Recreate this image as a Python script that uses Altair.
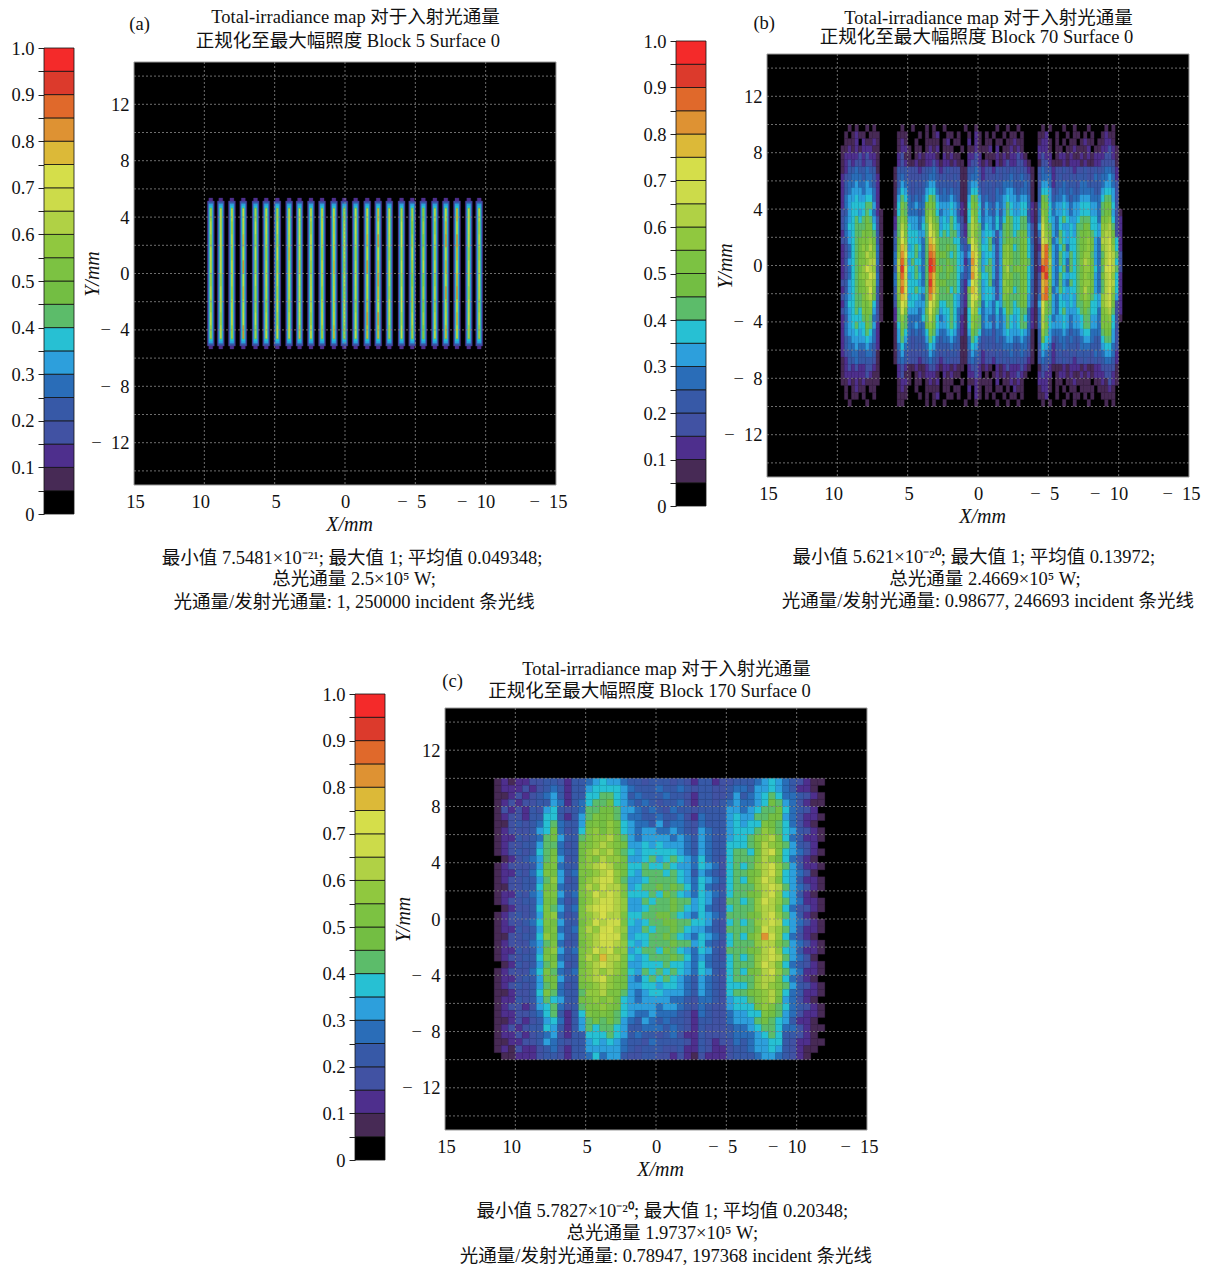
import altair as alt
import pandas as pd

SERIF = "Liberation Serif, Noto Sans CJK SC"

# colour of each irradiance band, lowest band first (0-0.05 ... 0.95-1)
band_colors = ["#000000", "#472A55", "#4E2F8D", "#4152A3", "#3759A7", "#2A6DB8", "#2D9FDC",
               "#27C0D3", "#5CBC6A", "#73BE43", "#7CC242", "#90C83F", "#B0D145", "#CCDB4A",
               "#D5DE4A", "#DCB938", "#DE9233", "#E0692B", "#DC3A2C", "#F42A2A"]
band_lower = [i / 20 for i in range(20)]
band_upper = [(i + 1) / 20 for i in range(20)]
LEVELS = "0123456789abcdefghij"

# panel (a): stripe centres (mm) and nested bands (half width, half height, level)
stripe_x = [9.54, 8.83, 8.04, 7.23, 6.36, 5.60, 4.81, 3.97, 3.23, 2.42, 1.63, 0.79, 0.05,
            -0.76, -1.58, -2.36, -3.15, -4.02, -4.78, -5.57, -6.39, -7.17, -7.96, -8.80, -9.54]
stripe_bands = [(0.14, 5.35, "2"), (0.25, 5.15, "2"), (0.2, 5.1, "4"), (0.14, 4.95, "6"), (0.10, 4.8, "7"), (0.065, 4.65, "9")]
stripe_core = ["cdcedcdcec", "ddedecedcd", "dcdcedcdec", "edfdgefdeg", "cdcdcdccdc", "dedcdedcde",
               "cdcecdcdcd", "dedfdedcde", "ededfededf", "dcedcdedce", "dedcedcdec", "ededfdedef",
               "cdedcdcedc", "dedcdedcde", "edfegedfgf", "fegefgfegf", "dedcedcedc", "cdecdcdecd",
               "cbcdcbccdc", "bcbcdbcbcb", "dcdcecdcde", "efgefegdef", "fegfefgefe", "dedcedcdec",
               "dcdcdedcdc"]

# panel (b): levels read per 0.25 x 0.5 mm cell, x from 10.5 to -10.5, y from 10 to -10
rows_b = """0000 0101 0010 1000 0000 1001 0001 0100 1000 0010 0100 0001 0010 0100 0000 1010 0010 0100 0100 0010 1000
0000 1012 1101 1100 0001 1100 0101 0120 0110 1001 0210 1010 0101 1010 0001 1200 1001 0110 1010 0121 1000
0000 1112 0211 2100 0001 2100 1001 1110 1201 1002 0210 1101 1011 2110 0001 2210 1010 1101 2110 1122 1000
0001 1212 1222 1100 0001 2210 1101 2120 1110 0101 1211 1202 0112 1210 0002 2210 1101 1211 1201 1223 2100
0001 2222 3232 2100 0002 3110 1212 2210 2121 1002 2320 1112 1212 2321 0002 3220 1221 2112 1212 2233 2100
0001 2323 3233 2100 0002 3211 2112 2321 2212 1102 3321 2102 1232 2332 1001 3321 1121 2221 2112 2333 3100
0001 2445 4454 4100 0014 4433 3234 4532 3433 3114 4532 3324 3434 4343 2103 5442 3343 3233 4334 3455 4200
0002 3455 5455 4200 0014 5433 3344 5543 4334 3114 5542 3334 3445 4454 3103 5552 3433 4344 4335 4556 5200
0002 4556 5565 4200 0014 6543 4345 6644 4443 4115 6643 4434 4555 4445 4103 6652 4454 4435 5444 4566 5300
0002 4566 6566 5200 0015 7643 4446 7754 5454 4115 7753 4435 4566 5455 4104 7763 4554 5445 5554 4677 6300
0002 5667 6677 5200 0016 8754 5457 9865 5565 4116 9864 5435 5676 6566 5104 9864 5565 4556 6655 5788 6300
0002 5677 7788 6200 0017 a855 6559 a976 6676 5217 a974 6546 5687 6677 5215 a975 6676 5667 7766 5899 7300
0003 4677 6787 5210 0017 a855 5459 b975 6676 4217 b974 6546 4687 6677 4215 b975 6676 5667 7766 5899 6310
0003 5678 7898 6310 0028 b966 6569 ca86 7687 5317 ca75 6657 5798 7788 5215 c976 5787 6678 8877 5aab 7320
0003 5778 8899 7310 0028 ca76 6578 db96 7787 6328 cb85 7657 5898 7788 6316 da86 5766 7688 9977 6bbc 8320
0002 5678 8a9a 8410 0038 da77 7668 ec97 8788 6328 ca86 7763 6898 7899 6415 eb96 5876 7689 9a87 6bcc 9320
0003 4678 9aab 9410 0049 eb77 7658 fda8 8887 7439 db86 7853 6899 889a 7413 ec95 6876 7789 ab96 5ccd a720
0002 3578 9bac a510 004a fc67 8758 gfa8 8988 7535 ec87 7863 6ab9 789a 7512 fha6 5785 7789 ab96 5bcd b720
0002 3578 9acb b510 005b ge77 8658 hga9 9878 7636 fd96 7763 6ab9 889a 7513 fhb6 5876 8789 bb86 58cd c830
0002 4678 aabc c510 005c hc68 7758 iha8 8988 7625 gd86 7863 6bb9 889a 8513 ghc6 5875 878a cb96 59ce c730
0002 3578 9bdc b410 004c ie77 8658 jha9 8a98 7635 fe86 8863 6ac8 9a9a 7512 ihb6 5785 8789 bb97 58de c830
0002 3578 abbd c510 005b hd67 8758 hfa8 8988 7535 gd97 7863 6ab9 8899 7513 gib6 5876 7789 ba96 59cd b720
0003 4678 9acc b510 005b gd77 7658 ifa9 9888 7426 ec86 7853 6ba9 889a 7413 fga6 5865 878a bb96 58cd c720
0002 4678 9abd a410 004b he77 8768 hfb8 8978 7429 fd86 7763 6ab9 789a 7413 fha5 6876 7789 ca96 58ce b720
0003 5678 8abc 9410 004a fd67 7658 gda8 8887 6328 ed96 7763 6a98 889a 6415 gha6 5766 7689 ba87 6bcd a620
0002 5778 8a9b 7310 0039 ec77 6668 ec97 7887 6328 db85 7657 6898 7899 6316 ea86 5776 7688 a977 6bcd 9320
0003 5678 7a9a 6310 0028 da66 6569 db86 7787 5317 cb75 6657 5798 7788 5215 d986 5786 6678 9877 5abc 8320
0002 4677 7898 5310 0028 b855 5578 ca75 6787 5217 ba85 6546 5687 6787 5215 c875 6676 5667 8866 5aab 7310
0002 5678 7798 6200 0017 a855 6559 b976 6787 5217 b985 6646 5687 6788 5215 c976 6676 5667 8866 5aaa 7300
0002 5667 6787 5200 0016 9754 5457 a865 5676 4216 9874 5535 5676 6676 5104 b865 5565 4556 7755 5899 6300
0002 4566 6676 5200 0016 8643 4446 8754 5565 4115 8753 4435 4566 5565 4104 9763 4554 5445 6654 4788 6300
0002 4556 5565 4200 0015 7543 4345 7644 4454 4115 7643 4434 4555 4455 3103 7652 4454 4435 5544 4677 5300
0002 3455 4455 4100 0014 6433 3344 6543 4344 3114 6542 3334 3445 4454 3103 6542 3433 4344 4435 4566 5200
0001 2445 4444 3100 0014 5433 3234 5432 3433 3114 5432 3324 3434 4343 2103 5442 3343 3233 4334 3455 4200
0001 2323 2233 2100 0002 3211 2112 3321 2212 1102 3321 2102 1232 2232 1001 3321 1121 2221 2112 2333 3100
0001 2222 2232 1100 0002 3110 1212 2210 2121 1002 2320 1012 1212 2321 0002 3220 1221 2112 1212 2233 2100
0001 1212 1211 1100 0001 2210 1101 2120 1110 0101 1211 1102 0112 1210 0002 2210 1101 1211 1101 1213 2100
0000 1012 1101 1000 0001 2100 1001 1110 1101 1002 0210 1101 1010 2110 0001 2210 1010 1101 1110 1112 1000
0000 1011 0100 1000 0001 1100 0101 0120 0110 1001 0210 1010 0101 1010 0001 1200 1001 0110 1010 0111 1000
0000 0100 0010 0000 0001 1000 0001 0100 1000 0010 0100 0001 0010 0100 0000 1010 0010 0100 0100 0010 1000""".split("\n")

# panel (c): levels read per 0.5 mm cell, x from 12 to -12, y from 10 to -10
rows_c = """012122 334432 445676 654434 443432 442334 445676 543211
012223 234542 446777 765444 544543 443345 546676 542210
011232 345642 447788 764544 454432 443346 456787 554321
012323 344652 457889 765454 344532 443456 556798 653211
013232 436743 458899 866545 435443 444466 567889 754320
012332 447742 468a9a 865544 544532 544467 668899 653221
011343 457854 469a9b 976554 645543 544467 677a98 753210
012333 467953 47ab9b 976566 556543 654467 778ba8 764321
012243 458964 48abbc a86566 665654 654467 78abc9 754221
012334 468853 49abcb a96676 766654 654477 789cba 864320
012343 478954 49bcbc a87677 777654 654478 879cda 765321
001234 568a63 49bacb b96678 678765 754378 88acb9 753210
012333 469a54 4abcdc a97787 787665 765378 78bcdb 864221
012243 57a964 5aabcd b97688 878764 654378 89acdb 765310
012334 468b63 49bcdd b86678 888765 765478 79bdca 764221
011334 479a54 4acbdc ca6788 989875 754378 88bcdc 865321
012243 56aa64 5abdcd ca7778 798765 765478 89acdb 764210
012334 469953 49bcdd cb6687 889886 764388 78bdcb 865221
001233 47a864 5acded cb6678 889876 754378 88bcca 753321
012343 46ab53 4abcec ca7788 998765 765488 89acdb 864210
012334 57a964 49bdcd da7678 899887 764378 78bcdc 765321
012243 469a54 5acbde cb6687 889876 654388 88adcb 864221
011334 47b964 4abced da6778 898765 765478 79bgdb 753210
012333 568a53 49bcdd cb7678 889886 754378 88bcca 865321
012243 469b64 5abdcd bb6788 798765 764388 89acdb 764221
012334 47a954 4acbfc ca7678 889875 654378 78bcdc 865310
001243 468a63 49bcdc ba6677 787765 754478 88bdca 754321
012333 57a854 5abcbc b97687 878765 764378 79acdb 865221
012234 469964 4abcdb a96578 787654 654378 88bcca 753210
012343 468953 49abcb a96677 677654 654377 78bcba 864321
011233 47a854 48bbca a86567 766654 654378 89abca 754221
012243 468764 49abab 976566 665543 554367 78abc9 653210
012332 367853 48aaba 976666 566543 543367 779ba8 754321
012233 457842 47a9a9 876556 555432 543356 677a98 653221
011232 346752 468989 865465 454432 443356 668987 642210
012323 447642 468788 764455 545432 433345 567887 553211
012232 345632 447778 764544 345322 433345 556787 443210
011223 346543 446767 654435 444432 432335 456677 432211
012132 234532 446666 654344 433422 432234 456676 432110
001122 234432 445756 643344 332321 322234 445665 432100""".split("\n")

x_ticks = [15, 10, 5, 0, -5, -10, -15]
x_grid = [10, 5, 0, -5, -10]
y_ticks = [14, 12, 10, 8, 6, 4, 2, 0, -2, -4, -6, -8, -10, -12, -14]

titles = {
    "a": [("Total-irradiance map 对于入射光通量", -0.75, 18.16), ("正规化至最大幅照度 Block 5 Surface 0", -0.2, 16.52), ("(a)", 14.6, 17.7)],
    "b": [("Total-irradiance map 对于入射光通量", -0.75, 17.58), ("正规化至最大幅照度 Block 70 Surface 0", 0.1, 16.24), ("(b)", 15.2, 17.2)],
    "c": [("Total-irradiance map 对于入射光通量", -0.75, 17.77), ("正规化至最大幅照度 Block 170 Surface 0", 0.46, 16.2), ("(c)", 14.46, 16.9)],
}
captions = {
    "a": [("最小值 7.5481×10⁻²¹; 最大值 1; 平均值 0.049348;", -0.5, -20.15), ("总光通量  2.5×10⁵ W;", -0.65, -21.7), ("光通量/发射光通量: 1,  250000 incident 条光线", -0.65, -23.3)],
    "b": [("最小值 5.621×10⁻²⁰; 最大值 1; 平均值 0.13972;", 0.3, -20.65), ("总光通量  2.4669×10⁵ W;", -0.5, -22.2), ("光通量/发射光通量: 0.98677,  246693 incident 条光线", -0.7, -23.8)],
    "c": [("最小值 5.7827×10⁻²⁰; 最大值 1; 平均值 0.20348;", -0.45, -20.75), ("总光通量  1.9737×10⁵ W;", -0.45, -22.3), ("光通量/发射光通量: 0.78947,  197368 incident 条光线", -0.7, -23.95)],
}


def grid_cells(rows, x_start, y_start, step_x=0.5, step_y=0.5):
    out = []
    for r, row in enumerate(rows):
        for c, ch in enumerate(row.replace(" ", "")):
            if ch != "0":
                out.append({"x1": x_start - c * step_x, "x2": x_start - (c + 1) * step_x,
                            "y1": y_start - r * step_y, "y2": y_start - (r + 1) * step_y,
                            "color": band_colors[LEVELS.index(ch)]})
    return pd.DataFrame(out)


def stripe_cells():
    out = []
    for cx, core in zip(stripe_x, stripe_core):
        for hw, hh, ch in stripe_bands:
            out.append({"x1": cx + hw, "x2": cx - hw, "y1": hh, "y2": -hh, "color": band_colors[LEVELS.index(ch)]})
        for r, ch in enumerate(core):
            out.append({"x1": cx + 0.035, "x2": cx - 0.035, "y1": 4.6 - r * 0.92, "y2": 4.6 - (r + 1) * 0.92,
                        "color": band_colors[LEVELS.index(ch)]})
    return pd.DataFrame(out)


X_SCALE = alt.Scale(domain=[15, -15], nice=False, zero=False)
LABEL = "(datum.value<0 ? '\u2212\u2002' + abs(datum.value) : '' + datum.value)"
OFFSET = "datum.value==15?1:datum.value==10?-4:datum.value==5?1:datum.value==-5?-4:datum.value==-10?-10:datum.value==-15?-8:0"


def panel(cells, key, top, bottom, view_h):
    y_scale = alt.Scale(domain=[-15, 15], range=[bottom, top], nice=False, zero=False)
    x_axis = alt.Axis(values=x_ticks, grid=False, ticks=False, domain=False, labelExpr=LABEL, labelFlush=False,
                      labelOverlap=False, labelBound=False, labelPadding=7, labelOffset=alt.expr(OFFSET),
                      offset=bottom - view_h,
                      title="X/mm", titleFontStyle="italic", titleX=215, titleY=45, titleFontWeight="normal",
                      titleBaseline="alphabetic")
    y_axis = alt.Axis(values=y_ticks, grid=False, ticks=False, domain=False, labelPadding=5, labelOverlap=False,
                      labelExpr="abs(datum.value)%4==0 && abs(datum.value)<=12 ? " + LABEL + " : ''",
                      title="Y/mm", titleFontStyle="italic", titleX=-42, titleY=(top + bottom) / 2,
                      titleFontWeight="normal", titleBaseline="middle")
    xe = alt.X("x1:Q", scale=X_SCALE, axis=x_axis)
    ye = alt.Y("y1:Q", scale=y_scale, axis=y_axis)
    bg = alt.Chart(pd.DataFrame({"x1": [15], "x2": [-15], "y1": [15], "y2": [-15]})).mark_rect(
        color="#000000", stroke="#9a9a9a", strokeWidth=1).encode(x=xe, x2="x2:Q", y=ye, y2="y2:Q")
    heat = alt.Chart(cells).mark_rect(strokeWidth=0.3).encode(
        x=xe, x2="x2:Q", y=ye, y2="y2:Q",
        fill=alt.Fill("color:N", scale=None), stroke=alt.Stroke("color:N", scale=None))
    gx = alt.Chart(pd.DataFrame({"x1": x_grid})).mark_rule(
        color="#8a8a8a", strokeDash=[2, 2], strokeWidth=0.8).encode(x=xe, y=alt.value(top), y2=alt.value(bottom))
    gy = alt.Chart(pd.DataFrame({"y1": y_ticks})).mark_rule(
        color="#8a8a8a", strokeDash=[2, 2], strokeWidth=0.8).encode(y=ye)
    rows = titles[key] + captions[key]
    text = alt.Chart(pd.DataFrame(rows, columns=["t", "x1", "y1"])).mark_text(
        font=SERIF, fontSize=18.5, color="#111111", align="center", baseline="middle").encode(
        x=xe, y=ye, text="t:N")
    return alt.layer(bg, heat, gx, gy, text).properties(width=422, height=view_h)


def colorbar(top, bottom, view_h):
    df = pd.DataFrame({"lo": band_lower, "hi": band_upper, "color": band_colors})
    axis = alt.Axis(values=[i / 20 for i in range(21)], grid=False, domain=False, tickSize=6, tickColor="#222222",
                    labelPadding=4, labelOverlap=False, title=None,
                    labelExpr="datum.value==0 ? '0' : (round(datum.value*20)%2==0 ? format(datum.value,'.1f') : '')")
    return alt.Chart(df).mark_rect(stroke="#111111", strokeWidth=0.8).encode(
        x=alt.value(0), x2=alt.value(30),
        y=alt.Y("lo:Q", scale=alt.Scale(domain=[0, 1], range=[bottom, top], nice=False), axis=axis), y2="hi:Q",
        fill=alt.Fill("color:N", scale=None)).properties(width=30, height=view_h)


def spacer(w, h):
    return alt.Chart(pd.DataFrame({"v": [0]})).mark_point(opacity=0, size=1).encode(
        x=alt.value(w / 2), y=alt.value(h / 2)).properties(width=w, height=h)


H1 = 506
row1 = alt.hconcat(spacer(36, H1), colorbar(40, 506, H1), spacer(60, H1), panel(stripe_cells(), "a", 54, 477, H1),
                   spacer(120, H1), colorbar(33, 498, H1), spacer(61, H1),
                   panel(grid_cells(rows_b, 10.5, 10.0, step_x=0.25), "b", 46, 469, H1)).properties(bounds="flush", spacing=0)
H2 = 511
row2 = alt.hconcat(spacer(347, H2), colorbar(45, 511, H2), spacer(60, H2),
                   panel(grid_cells(rows_c, 12.0, 10.0), "c", 59, 481, H2)).properties(bounds="flush", spacing=0)

chart = alt.vconcat(row1, row2).properties(spacing=37, padding=0).configure_view(
    stroke=None).configure_axis(labelFont=SERIF, labelFontSize=18.5, labelColor="#111111", titleFont=SERIF,
                                titleFontSize=20, titleColor="#111111")
chart.save("out.html", embed_options={"renderer": "svg", "actions": False})
